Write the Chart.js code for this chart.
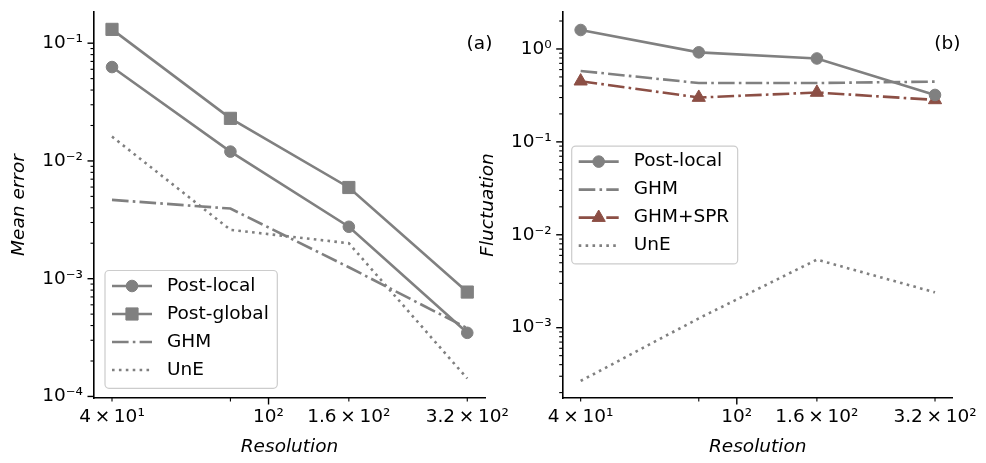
<!DOCTYPE html>
<html lang="en">
<head>
<meta charset="UTF-8">
<title>Mean error and fluctuation vs resolution</title>
<style>
  html, body { margin: 0; padding: 0; background: #fff; }
  #wrap { position: relative; width: 986px; height: 463px; overflow: hidden; }
  #wrap canvas { position: absolute; top: 0; }
</style>
</head>
<body>
<div id="wrap">
  <canvas id="error-chart" width="520" height="463" style="left:0"></canvas>
  <canvas id="fluct-chart" width="520" height="463" style="left:466px"></canvas>
</div>

<script src="https://cdn.jsdelivr.net/npm/chart.js@4"></script>
<script>
// grid resolutions shared by both panels
const resolution = [40, 80, 160, 320];

// (a) mean error
const errPostLocal  = [0.0627, 0.0120, 0.00276, 0.000347];
const errPostGlobal = [0.131, 0.0230, 0.00595, 0.00077];
const errGHM        = [0.00467, 0.00394, 0.00125, 0.00038];
const errUnE        = [0.0161, 0.0026, 0.0020, 0.000142];

// (b) fluctuation
const flPostLocal = [1.6, 0.92, 0.79, 0.32];
const flGHM       = [0.58, 0.43, 0.43, 0.445];
const flGHMSPR    = [0.45, 0.30, 0.34, 0.283];
const flUnE       = [0.000267, 0.00126, 0.0054, 0.0024];

// axis ticks
const xTickValues  = [40, 80, 100, 160, 320];
const xTickLabels  = ['4\u2009×\u200910¹', '', '10²', '1.6\u2009×\u200910²', '3.2\u2009×\u200910²'];
const xMajorValues = [100];
const errTickValues = [1e-4, 1e-3, 1e-2, 1e-1];
const errTickLabels = ['10⁻⁴', '10⁻³', '10⁻²', '10⁻¹'];
const flTickValues  = [1e-3, 1e-2, 1e-1, 1];
const flTickLabels  = ['10⁻³', '10⁻²', '10⁻¹', '10⁰'];

const GREY = '#808080';
const BROWN = '#8c4f45';
const LW = 2.6;
const DASHDOT = [16.6, 4.2, 2.6, 4.2];
const DOTTED = [2.6, 4.3];
const FONT = 'DejaVu Sans';
const FSIZE = 18.5;

function series(label, ys, style) {
  return Object.assign({
    label: label,
    data: ys.map((y, i) => ({ x: resolution[i], y: y })),
    showLine: true,
    borderColor: GREY,
    backgroundColor: GREY,
    pointBackgroundColor: GREY,
    pointBorderColor: GREY,
    borderWidth: LW,
    borderDash: [],
    pointRadius: 0,
    pointHoverRadius: 0,
    pointBorderWidth: 1
  }, style);
}

// short/long tick marks drawn off the library's scales
const tickMarks = {
  id: 'tickMarks',
  afterDraw(chart, args, opts) {
    const { ctx, chartArea: a, scales: { x, y } } = chart;
    ctx.save();
    ctx.strokeStyle = '#000';
    const mark = (x1, y1, x2, y2, w) => {
      ctx.lineWidth = w;
      ctx.beginPath(); ctx.moveTo(x1, y1); ctx.lineTo(x2, y2); ctx.stroke();
    };
    xTickValues.forEach(v => {
      const px = x.getPixelForValue(v);
      const major = xMajorValues.includes(v);
      mark(px, a.bottom, px, a.bottom + (major ? 6.5 : 3.5), major ? 1.4 : 1.1);
    });
    const lo = Math.floor(Math.log10(y.min)), hi = Math.ceil(Math.log10(y.max));
    for (let n = lo; n <= hi; n++) {
      for (let k = 1; k <= 9; k++) {
        const v = k * Math.pow(10, n);
        if (v < y.min || v > y.max) continue;
        const py = y.getPixelForValue(v);
        mark(a.left, py, a.left - (k === 1 ? 6.5 : 3.5), py, k === 1 ? 1.4 : 1.1);
      }
    }
    ctx.restore();
  }
};

function roundBox(ctx, x, y, w, h, r) {
  ctx.beginPath();
  ctx.moveTo(x + r, y);
  ctx.arcTo(x + w, y, x + w, y + h, r);
  ctx.arcTo(x + w, y + h, x, y + h, r);
  ctx.arcTo(x, y + h, x, y, r);
  ctx.arcTo(x, y, x + w, y, r);
  ctx.closePath();
}

// legend box inside the axes, with line + marker samples
const insideLegend = {
  id: 'insideLegend',
  afterDatasetsDraw(chart, args, opts) {
    const { ctx, chartArea: a } = chart;
    const sets = chart.data.datasets;
    const rowH = 28, lineLen = 40, padL = 7, gap = 15, padR = 8.5, padT = 1.5, padB = 4.3;
    ctx.save();
    ctx.font = FSIZE + 'px "' + FONT + '"';
    const textW = Math.max(...sets.map(d => ctx.measureText(d.label).width));
    const w = padL + lineLen + gap + textW + padR;
    const h = padT + sets.length * rowH + padB;
    const left = a.left + opts.dx;
    const top = opts.place === 'lowerLeft' ? a.bottom - opts.dy - h : (a.top + a.bottom) / 2 - h / 2;

    roundBox(ctx, left, top, w, h, 4);
    ctx.fillStyle = 'rgba(255,255,255,0.8)';
    ctx.fill();
    ctx.strokeStyle = '#cccccc';
    ctx.lineWidth = 1.2;
    ctx.stroke();

    sets.forEach((d, i) => {
      const cy = top + padT + rowH * (i + 0.5);
      ctx.setLineDash(d.borderDash || []);
      ctx.lineWidth = d.borderWidth;
      ctx.strokeStyle = d.borderColor;
      ctx.beginPath();
      ctx.moveTo(left + padL, cy);
      ctx.lineTo(left + padL + lineLen, cy);
      ctx.stroke();
      ctx.setLineDash([]);
      if (d.pointRadius > 0) {
        ctx.fillStyle = d.pointBackgroundColor;
        ctx.strokeStyle = d.pointBorderColor;
        ctx.lineWidth = d.pointBorderWidth;
        Chart.helpers.drawPoint(ctx, {
          pointStyle: d.pointStyle, rotation: 0, radius: d.pointRadius, borderWidth: d.pointBorderWidth
        }, left + padL + lineLen / 2, cy);
      }
      ctx.fillStyle = '#000';
      ctx.textAlign = 'left';
      ctx.textBaseline = 'middle';
      ctx.fillText(d.label, left + padL + lineLen + gap, cy);
    });
    ctx.restore();
  }
};

// "(a)" / "(b)" tag placed in axes fractions
const panelTag = {
  id: 'panelTag',
  afterDraw(chart, args, opts) {
    const { ctx, chartArea: a } = chart;
    ctx.save();
    ctx.font = FSIZE + 'px "' + FONT + '"';
    ctx.fillStyle = '#000';
    ctx.textAlign = 'left';
    ctx.textBaseline = 'alphabetic';
    ctx.fillText(opts.text, a.left + 0.953 * (a.right - a.left), a.bottom - 0.903 * (a.bottom - a.top));
    ctx.restore();
  }
};

function makeChart(canvasId, cfg) {
  const tickFont = { family: FONT, size: FSIZE };
  const titleFont = { family: FONT, size: FSIZE, style: 'italic' };
  return new Chart(document.getElementById(canvasId), {
    type: 'scatter',
    data: { datasets: cfg.datasets },
    plugins: [tickMarks, insideLegend, panelTag],
    options: {
      responsive: false,
      animation: false,
      events: [],
      layout: { padding: { top: 12, right: cfg.padRight, bottom: 0, left: 0 } },
      plugins: {
        legend: { display: false },
        tooltip: { enabled: false },
        insideLegend: cfg.legend,
        panelTag: { text: cfg.tag }
      },
      scales: {
        x: {
          type: 'logarithmic',
          min: 36, max: 355, bounds: 'data',
          afterBuildTicks: s => { s.ticks = xTickValues.map(v => ({ value: v })); },
          afterFit: s => { s.height = 65; s.paddingLeft = 0; s.paddingRight = 0; },
          ticks: { autoSkip: false, maxRotation: 0, padding: 8, color: '#000', font: tickFont,
                   callback: (v, i) => xTickLabels[i] },
          grid: { display: true, drawOnChartArea: false, drawTicks: false },
          border: { display: true, color: '#000', width: 1.6 },
          title: { display: true, text: 'Resolution', color: '#000', font: titleFont,
                   padding: { top: 0, bottom: 5.2 } }
        },
        y: {
          type: 'logarithmic',
          min: cfg.yMin, max: cfg.yMax, bounds: 'data',
          afterBuildTicks: s => { s.ticks = cfg.yTicks.map(v => ({ value: v })); },
          afterFit: s => { s.width = cfg.yWidth; s.paddingTop = 0; s.paddingBottom = 0; },
          ticks: { autoSkip: false, padding: 11, color: '#000', font: tickFont,
                   callback: (v, i) => cfg.yLabels[i] },
          grid: { display: true, drawOnChartArea: false, drawTicks: false },
          border: { display: true, color: '#000', width: 1.6 },
          title: { display: true, text: cfg.yTitle, color: '#000', font: titleFont,
                   padding: { top: cfg.yTitlePad, bottom: 0 } }
        }
      }
    }
  });
}

makeChart('error-chart', {
  datasets: [
    series('Post-local', errPostLocal, { pointStyle: 'circle', pointRadius: 5.8 }),
    series('Post-global', errPostGlobal, { pointStyle: 'rect', pointRadius: 8.6 }),
    series('GHM', errGHM, { borderDash: DASHDOT }),
    series('UnE', errUnE, { borderDash: DOTTED })
  ],
  yMin: 9.7e-5, yMax: 0.184,
  yTicks: errTickValues, yLabels: errTickLabels,
  yWidth: 94, padRight: 35,
  yTitle: 'Mean error', yTitlePad: 8.4,
  legend: { place: 'lowerLeft', dx: 11, dy: 9.7 },
  tag: '(a)'
});

makeChart('fluct-chart', {
  datasets: [
    series('Post-local', flPostLocal, { pointStyle: 'circle', pointRadius: 5.8 }),
    series('GHM', flGHM, { borderDash: DASHDOT }),
    series('GHM+SPR', flGHMSPR, {
      borderDash: DASHDOT, borderColor: BROWN, backgroundColor: BROWN,
      pointBackgroundColor: BROWN, pointBorderColor: BROWN,
      pointStyle: 'triangle', pointRadius: 7.6
    }),
    series('UnE', flUnE, { borderDash: DOTTED })
  ],
  yMin: 1.75e-4, yMax: 2.5,
  yTicks: flTickValues, yLabels: flTickLabels,
  yWidth: 96.7, padRight: 33.3,
  yTitle: 'Fluctuation', yTitlePad: 10.9,
  legend: { place: 'centerLeft', dx: 9 },
  tag: '(b)'
});
</script>
</body>
</html>
